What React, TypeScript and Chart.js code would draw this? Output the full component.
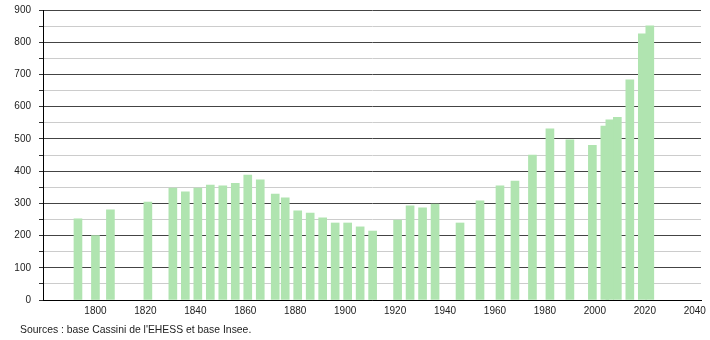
import React, { useEffect, useRef } from "react";
import { Chart, registerables } from "chart.js";

Chart.register(...registerables);

const years = [1793, 1800, 1806, 1821, 1831, 1836, 1841, 1846, 1851, 1856, 1861, 1866, 1872, 1876, 1881, 1886, 1891, 1896, 1901, 1906, 1911, 1921, 1926, 1931, 1936, 1946, 1954, 1962, 1968, 1975, 1982, 1990, 1999, 2004, 2006, 2009, 2014, 2019, 2022];
const population = [252, 200, 280, 304, 347, 336, 347, 357, 354, 362, 388, 373, 329, 317, 277, 270, 255, 239, 239, 227, 214, 248, 292, 286, 298, 239, 308, 354, 369, 450, 531, 497, 480, 540, 559, 567, 683, 826, 851];
const xTicks = [1800, 1820, 1840, 1860, 1880, 1900, 1920, 1940, 1960, 1980, 2000, 2020, 2040];
const sourceText = "Sources : base Cassini de l'EHESS et base Insee.";

const FONT = "'Liberation Sans', Arial, Helvetica, sans-serif";

export default function App() {
  const ref = useRef<HTMLCanvasElement | null>(null);

  useEffect(() => {
    if (!ref.current) return;
    const chart = new Chart(ref.current, {
      type: "bar",
      data: {
        datasets: [
          {
            data: years.map((y, i) => ({ x: y, y: population[i] })),
            backgroundColor: "rgb(176,228,176)",
            borderWidth: 0,
            barThickness: 8,
          },
        ],
      },
      options: {
        animation: false,
        responsive: false,
        devicePixelRatio: 1,
        layout: { padding: { top: 10, right: 9, left: 0, bottom: 0 } },
        plugins: {
          legend: { display: false },
          tooltip: { enabled: false },
        },
        scales: {
          x: {
            type: "linear",
            offset: false,
            min: 1779,
            max: 2042.5,
            afterBuildTicks: (scale: any) => {
              scale.ticks = xTicks.map((v) => ({ value: v }));
            },
            afterFit: (scale: any) => {
              scale.height = 40;
              scale.paddingLeft = 0;
              scale.paddingRight = 0;
            },
            grid: { display: false, drawTicks: false, offset: false },
            border: { display: true, color: "#000", width: 1 },
            ticks: {
              padding: 5,
              color: "#222",
              font: { family: FONT, size: 10 },
              callback: (v: any) => String(v),
              maxRotation: 0,
              autoSkip: false,
            },
          },
          y: {
            min: 0,
            max: 900,
            afterFit: (scale: any) => {
              scale.width = 43;
              scale.paddingTop = 0;
              scale.paddingBottom = 0;
            },
            ticks: {
              stepSize: 50,
              padding: 8,
              color: "#222",
              font: { family: FONT, size: 10 },
              callback: (v: any) => (Number(v) % 100 === 0 ? String(v) : ""),
            },
            grid: {
              color: (ctx: any) => (ctx.tick && ctx.tick.value % 100 === 0 ? "#444" : "#cccccc"),
              tickColor: "#333",
              tickLength: 4,
              lineWidth: 1,
            } as any,
            border: { display: true, color: "#000", width: 1 },
          },
        },
      } as any,
    });
    return () => chart.destroy();
  }, []);

  return (
    <div style={{ position: "absolute", left: 0, top: 0, width: 710, height: 340, background: "#fff" }}>
      <canvas ref={ref} width={710} height={340} style={{ width: 710, height: 340, display: "block" }} />
      <div
        style={{
          position: "absolute",
          left: 20,
          top: 324,
          fontFamily: FONT,
          fontSize: 10.4,
          lineHeight: "12px",
          color: "#222",
          whiteSpace: "nowrap",
        }}
      >
        {sourceText}
      </div>
    </div>
  );
}
